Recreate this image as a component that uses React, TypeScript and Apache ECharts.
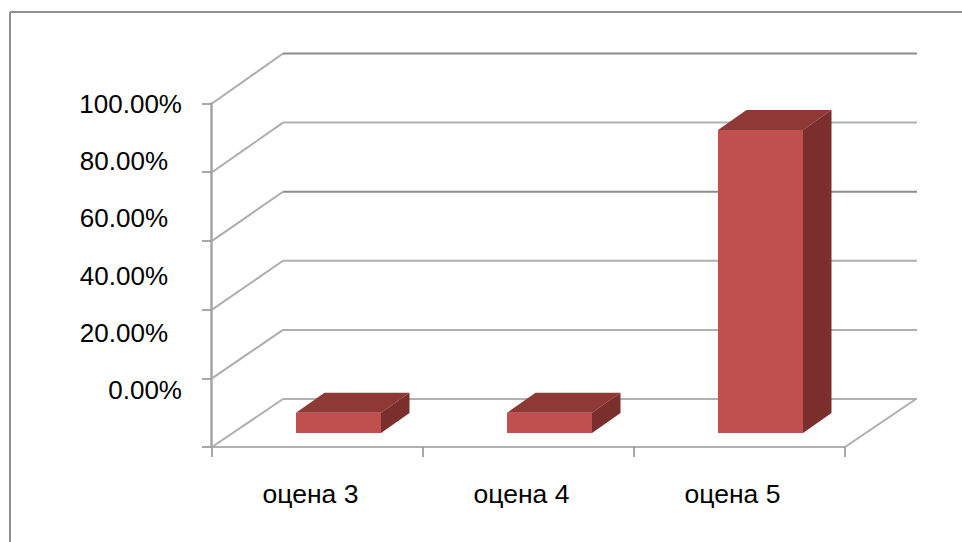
import React, { useEffect, useRef } from "react";
import * as echarts from "echarts";

const categories = ["оцена 3", "оцена 4", "оцена 5"];
const values = [5.88, 5.88, 88.24];
const yTicks = [0, 20, 40, 60, 80, 100];

const FONT = "'Liberation Sans', Arial, sans-serif";
const Y_FONT_SIZE = 26;
const X_FONT_SIZE = 26.5;
const DEPTH_X = 71;
const BAR_WIDTH = 85;
const BAR_SHIFT_X = 21;
const BAR_SHIFT_Y = -14;
const BAR_DEPTH_X = 28.5;
const BAR_DEPTH_Y = -20;
const backOffset = (v: number) => -(48 + v * 0.02);
const backLineColor = (v: number) => (v === 100 || v === 60 ? "#8c8c8c" : "#b0b0b0");

const renderWall = (params: any, api: any) => {
  const v = api.value(1);
  const p = api.coord([0, v]);
  const band = api.size([1, 0])[0];
  const left = p[0] - band / 2;
  const right = left + band * categories.length;
  const backY = p[1] + backOffset(v);
  const children: any[] = [
    {
      type: "line",
      shape: { x1: left, y1: p[1], x2: left + DEPTH_X, y2: backY },
      style: { stroke: "#adadad", lineWidth: 2, fill: "none" },
    },
    {
      type: "line",
      shape: { x1: left + DEPTH_X, y1: backY, x2: right + DEPTH_X + 1, y2: backY },
      style: { stroke: backLineColor(v), lineWidth: 2, fill: "none" },
    },
  ];
  if (v === 0) {
    children.push({
      type: "line",
      shape: { x1: right, y1: p[1], x2: right + DEPTH_X, y2: backY },
      style: { stroke: "#adadad", lineWidth: 2, fill: "none" },
    });
  }
  return { type: "group", children };
};

const renderBar = (params: any, api: any) => {
  const idx = api.value(0);
  const top = api.coord([idx, api.value(1)]);
  const base = api.coord([idx, 0]);
  const x0 = top[0] + BAR_SHIFT_X - BAR_WIDTH / 2;
  const x1 = x0 + BAR_WIDTH;
  const yTop = top[1] + BAR_SHIFT_Y;
  const yBase = base[1] + BAR_SHIFT_Y;
  return {
    type: "group",
    children: [
      {
        type: "polygon",
        shape: {
          points: [
            [x0, yTop],
            [x1, yTop],
            [x1 + BAR_DEPTH_X, yTop + BAR_DEPTH_Y],
            [x0 + BAR_DEPTH_X, yTop + BAR_DEPTH_Y],
          ],
        },
        style: { fill: "#8E3936" },
      },
      {
        type: "polygon",
        shape: {
          points: [
            [x1, yTop],
            [x1 + BAR_DEPTH_X, yTop + BAR_DEPTH_Y],
            [x1 + BAR_DEPTH_X, yBase + BAR_DEPTH_Y],
            [x1, yBase],
          ],
        },
        style: { fill: "#7A2F2D" },
      },
      {
        type: "rect",
        shape: { x: x0, y: yTop, width: BAR_WIDTH, height: yBase - yTop },
        style: { fill: "#C0504D" },
      },
    ],
  };
};

export default function App() {
  const ref = useRef<HTMLDivElement>(null);
  useEffect(() => {
    const chart = echarts.init(ref.current!, undefined, { renderer: "svg" });
    chart.setOption({
      animation: false,
      backgroundColor: "#ffffff",
      textStyle: { fontFamily: FONT },
      grid: [
        { left: 212, top: 103.5, width: 633, height: 343.5 },
        { left: 181, top: 104, width: 1, height: 286 },
      ],
      xAxis: [
        {
          type: "category",
          gridIndex: 0,
          data: categories,
          axisLine: { show: true, lineStyle: { color: "#b0b0b0", width: 2 } },
          axisTick: { show: true, length: 10, lineStyle: { color: "#8c8c8c", width: 1.5 } },
          axisLabel: {
            color: "#000",
            fontFamily: FONT,
            fontSize: X_FONT_SIZE,
            margin: 33,
            padding: [0, 14, 0, 0],
          },
        },
        { type: "category", gridIndex: 1, data: categories, show: false },
      ],
      yAxis: [
        {
          type: "value",
          gridIndex: 0,
          min: 0,
          max: 100,
          interval: 20,
          offset: 1,
          axisLine: { show: true, lineStyle: { color: "#a4a4a4", width: 2.5 } },
          axisTick: { show: true, length: 9, lineStyle: { color: "#8c8c8c", width: 1.5 } },
          axisLabel: { show: false },
          splitLine: { show: false },
        },
        {
          type: "value",
          gridIndex: 1,
          min: 0,
          max: 100,
          interval: 20,
          axisLine: { show: false },
          axisTick: { show: false },
          splitLine: { show: false },
          axisLabel: {
            margin: -1,
            formatter: (v: number) => {
              const s = v.toFixed(2) + "%";
              return v === 0 || v === 100 ? `{w|${s}}` : `{n|${s}}`;
            },
            rich: {
              w: { color: "#000", fontFamily: FONT, fontSize: Y_FONT_SIZE },
              n: { color: "#000", fontFamily: FONT, fontSize: Y_FONT_SIZE, padding: [0, 14, 0, 0] },
            },
          },
        },
      ],
      graphic: [
        {
          type: "line",
          shape: { x1: 10, y1: 12, x2: 962, y2: 12 },
          style: { stroke: "#8f8f8f", lineWidth: 2 },
        },
        {
          type: "line",
          shape: { x1: 10, y1: 12, x2: 10, y2: 542 },
          style: { stroke: "#8f8f8f", lineWidth: 2 },
        },
      ],
      series: [
        {
          type: "custom",
          xAxisIndex: 0,
          yAxisIndex: 0,
          clip: false,
          silent: true,
          z: 1,
          renderItem: renderWall,
          encode: { x: 0, y: 1 },
          data: yTicks.map((t) => [0, t]),
        },
        {
          type: "custom",
          name: "оцена",
          xAxisIndex: 0,
          yAxisIndex: 0,
          clip: false,
          z: 2,
          renderItem: renderBar,
          encode: { x: 0, y: 1 },
          data: values.map((v, i) => [i, v]),
        },
      ],
    });
    return () => chart.dispose();
  }, []);
  return (
    <div
      ref={ref}
      style={{ position: "absolute", left: 0, top: 0, width: 962, height: 542 }}
    />
  );
}
